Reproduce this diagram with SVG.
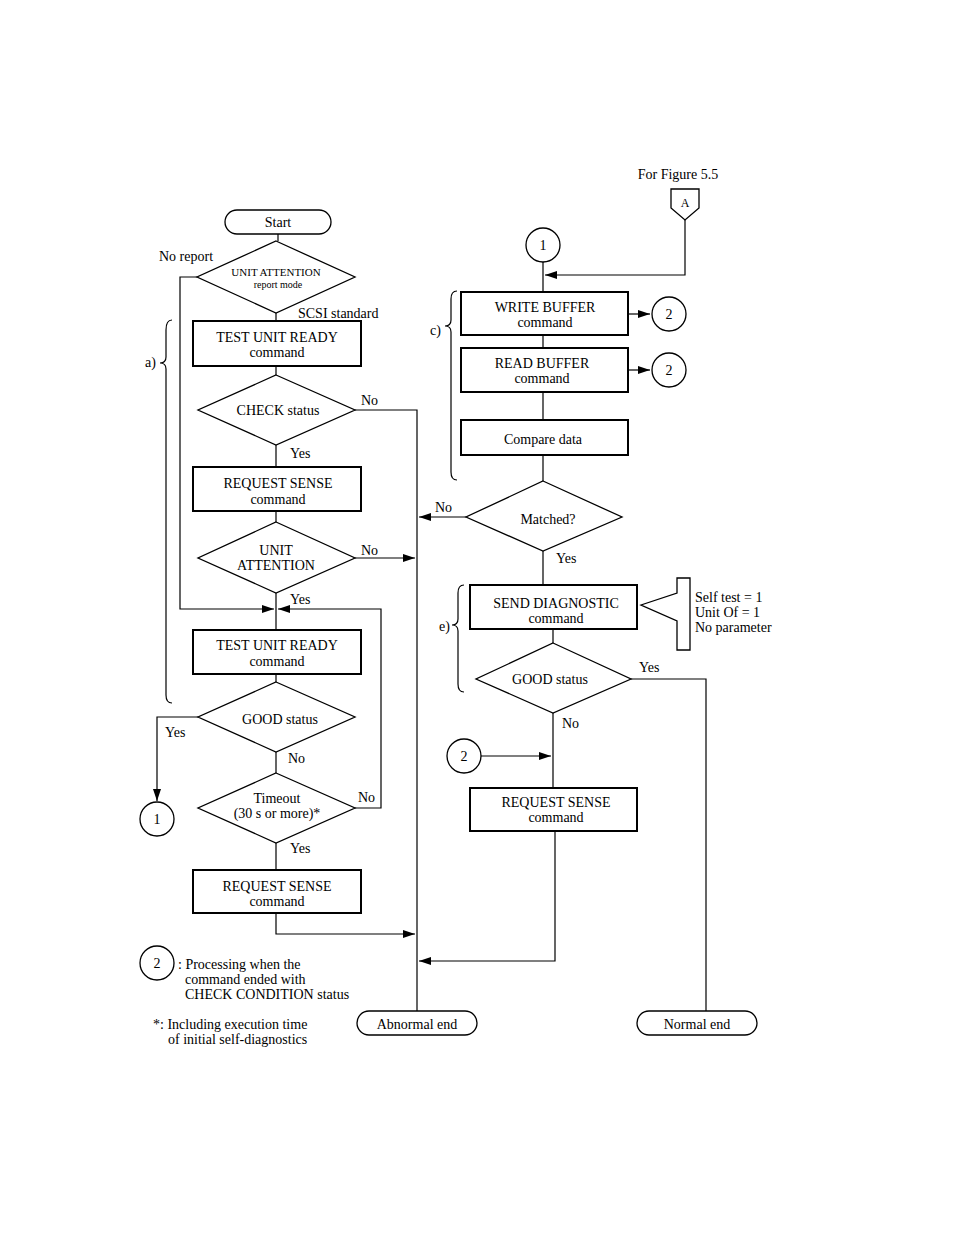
<svg xmlns="http://www.w3.org/2000/svg" width="954" height="1235" viewBox="0 0 954 1235">
<style>
text{font-family:"Liberation Serif",serif;font-size:14px;fill:#000}
.c{text-anchor:middle}
.s{font-size:11px}
.b{fill:#fff;stroke:#000;stroke-width:2}
.n{fill:#fff;stroke:#000;stroke-width:1.3}
.l{fill:none;stroke:#000;stroke-width:1.2}
</style>
<defs><marker id="a" markerWidth="12" markerHeight="8" refX="12" refY="4" orient="auto" markerUnits="userSpaceOnUse"><path d="M0,0L12,4L0,8z"/></marker></defs>
<rect width="954" height="1235" fill="#fff"/>
<g id="connectors">
<path class="l" d="M278,234V241M276,313V321M276,366V375M276,445V467M276,511V522M276,593V630M276,674V682M276,752V773M276,843V870"/>
<path class="l" d="M197,277H180V609H274" marker-end="url(#a)"/>
<path class="l" d="M355,410H417V1011"/>
<path class="l" d="M355,558H415" marker-end="url(#a)"/>
<path class="l" d="M198,717H157V801" marker-end="url(#a)"/>
<path class="l" d="M355,808H381V609H278" marker-end="url(#a)"/>
<path class="l" d="M276,913V934H415" marker-end="url(#a)"/>
<path class="l" d="M685,220V275H545" marker-end="url(#a)"/>
<path class="l" d="M543,262V292M543,335V348M543,392V420M543,455V481M543,551V585M553,629V643M553,713V788"/>
<path class="l" d="M628,314H650" marker-end="url(#a)"/>
<path class="l" d="M628,370H650" marker-end="url(#a)"/>
<path class="l" d="M466,517H419" marker-end="url(#a)"/>
<path class="l" d="M631,679H706V1011"/>
<path class="l" d="M481,756H551" marker-end="url(#a)"/>
<path class="l" d="M555,831V961H419" marker-end="url(#a)"/>
<path class="l" d="M172,320Q166,320 166,330V357Q166,363 160,363Q166,363 166,369V695Q166,703 172,703"/>
<path class="l" d="M457,291Q451,291 451,299V320Q451,326 445,326Q451,326 451,332V472Q451,480 457,480"/>
<path class="l" d="M464,585Q458,585 458,593V619Q458,625 452,625Q458,625 458,631V684Q458,692 464,692"/>
</g>
<g id="start"><rect class="n" x="225" y="210" width="106" height="24" rx="12"/><text class="c" x="278" y="227">Start</text></g>
<g id="d1"><path class="n" d="M276,241L355,277L276,313L197,277Z"/><text class="c s" x="276" y="276">UNIT ATTENTION</text><text class="c" x="278" y="288" style="font-size:10px">report mode</text></g>
<text x="159" y="261">No report</text><text x="298" y="318">SCSI standard</text><text x="145" y="367">a)</text>
<g id="tur1"><rect class="b" x="193" y="321" width="168" height="45"/><text class="c" x="277" y="342">TEST UNIT READY</text><text class="c" x="277" y="357">command</text></g>
<g id="check"><path class="n" d="M276,375L355,410L276,445L198,410Z"/><text class="c" x="278" y="415">CHECK status</text></g>
<text x="361" y="405">No</text><text x="290" y="458">Yes</text>
<g id="rs1"><rect class="b" x="193" y="467" width="168" height="44"/><text class="c" x="278" y="488">REQUEST SENSE</text><text class="c" x="278" y="504">command</text></g>
<g id="ua"><path class="n" d="M276,522L355,558L276,593L198,558Z"/><text class="c" x="276" y="555">UNIT</text><text class="c" x="276" y="570">ATTENTION</text></g>
<text x="361" y="555">No</text><text x="290" y="604">Yes</text>
<g id="tur2"><rect class="b" x="193" y="630" width="168" height="44"/><text class="c" x="277" y="650">TEST UNIT READY</text><text class="c" x="277" y="666">command</text></g>
<g id="good1"><path class="n" d="M276,682L355,717L276,752L198,717Z"/><text class="c" x="280" y="724">GOOD status</text></g>
<text x="165" y="737">Yes</text><text x="288" y="763">No</text>
<g id="c1a"><circle class="n" cx="157" cy="819" r="17"/><text class="c" x="157" y="824">1</text></g>
<g id="timeout"><path class="n" d="M276,773L355,808L276,843L198,808Z"/><text class="c" x="277" y="803">Timeout</text><text class="c" x="277" y="818">(30 s or more)*</text></g>
<text x="358" y="802">No</text><text x="290" y="853">Yes</text>
<g id="rs2"><rect class="b" x="193" y="870" width="168" height="43"/><text class="c" x="277" y="891">REQUEST SENSE</text><text class="c" x="277" y="906">command</text></g>
<g id="legend"><circle class="n" cx="157" cy="963" r="17"/><text class="c" x="157" y="968">2</text><text x="178" y="969">: Processing when the</text><text x="185" y="984">command ended with</text><text x="185" y="999">CHECK CONDITION status</text></g>
<text x="153" y="1029">*: Including execution time</text><text x="168" y="1044">of initial self-diagnostics</text>
<g id="abend"><rect class="n" x="357" y="1011" width="120" height="24" rx="12"/><text class="c" x="417" y="1029">Abnormal end</text></g>
<g id="normend"><rect class="n" x="637" y="1011" width="120" height="24" rx="12"/><text class="c" x="697" y="1029">Normal end</text></g>
<text class="c" x="678" y="179">For Figure 5.5</text>
<g id="A"><path class="n" d="M671,189H699V208L685,220L671,208Z"/><text class="c" x="685" y="207" style="font-size:12px">A</text></g>
<g id="c1b"><circle class="n" cx="543" cy="245" r="17"/><text class="c" x="543" y="250">1</text></g>
<text x="430" y="335">c)</text>
<g id="wb"><rect class="b" x="461" y="292" width="167" height="43"/><text class="c" x="545" y="312">WRITE BUFFER</text><text class="c" x="545" y="327">command</text></g>
<g id="c2a"><circle class="n" cx="669" cy="314" r="17"/><text class="c" x="669" y="319">2</text></g>
<g id="rb"><rect class="b" x="461" y="348" width="167" height="44"/><text class="c" x="542" y="368">READ BUFFER</text><text class="c" x="542" y="383">command</text></g>
<g id="c2b"><circle class="n" cx="669" cy="370" r="17"/><text class="c" x="669" y="375">2</text></g>
<g id="cmp"><rect class="b" x="461" y="420" width="167" height="35"/><text class="c" x="543" y="444">Compare data</text></g>
<g id="match"><path class="n" d="M543,481L622,517L543,551L466,517Z"/><text class="c" x="548" y="524">Matched?</text></g>
<text x="435" y="512">No</text><text x="556" y="563">Yes</text>
<text x="439" y="631">e)</text>
<g id="sd"><rect class="b" x="470" y="585" width="167" height="44"/><text class="c" x="556" y="608">SEND DIAGNOSTIC</text><text class="c" x="556" y="623">command</text></g>
<g id="note"><path class="n" d="M677,578H690V650H677V621L641,605L677,593Z"/><text x="695" y="602">Self test = 1</text><text x="695" y="617">Unit Of = 1</text><text x="695" y="632">No parameter</text></g>
<g id="good2"><path class="n" d="M553,643L631,679L553,713L476,679Z"/><text class="c" x="550" y="684">GOOD status</text></g>
<text x="639" y="672">Yes</text><text x="562" y="728">No</text>
<g id="c2c"><circle class="n" cx="464" cy="756" r="17"/><text class="c" x="464" y="761">2</text></g>
<g id="rs3"><rect class="b" x="470" y="788" width="167" height="43"/><text class="c" x="556" y="807">REQUEST SENSE</text><text class="c" x="556" y="822">command</text></g>
</svg>
